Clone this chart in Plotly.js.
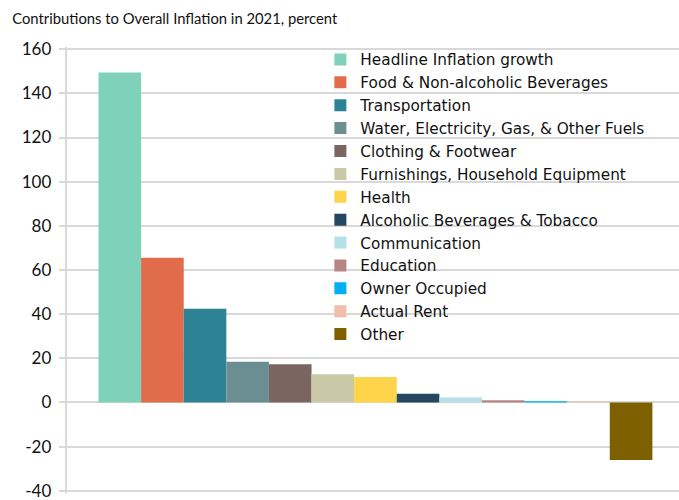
<!DOCTYPE html>
<html>
<head>
<meta charset="utf-8">
<script src="https://cdn.plot.ly/plotly-3.0.1.min.js"></script>
<style>body{margin:0;padding:0;background:#fff}#chart{width:679px;height:500px}</style>
</head>
<body>
<div id="chart"></div>
<script>
var categories = ["Headline Inflation growth","Food & Non-alcoholic Beverages","Transportation","Water, Electricity, Gas, & Other Fuels","Clothing & Footwear","Furnishings, Household Equipment","Health","Alcoholic Beverages & Tobacco","Communication","Education","Owner Occupied","Actual Rent","Other"];
var values = [149.5, 65.5, 42.4, 18.5, 17.3, 12.8, 11.5, 4.0, 2.2, 1.0, 0.6, 0.3, -26.0];
var colors = ["#7fd1b9","#e06c4b","#2e8295","#6b8e92","#7a6561","#c9c9a8","#fed44a","#24465e","#b3e1e8","#b88484","#00b0f0","#f4bcaa","#7f6000"];
var yTicks = [-40,-20,0,20,40,60,80,100,120,140,160];

var TFONT = "Lato, 'Open Sans', sans-serif";
var LFONT = "'DejaVu Sans', 'Open Sans', sans-serif";
var traces = categories.map(function(c,i){
  return {type:"bar", name:c, x:["2021"], y:[values[i]], marker:{color:colors[i]}, hoverinfo:"name+y"};
});
var layout = {
  width:679, height:500,
  margin:{l:67, r:0, t:47, b:7},
  paper_bgcolor:"#fff", plot_bgcolor:"#fff",
  barmode:"group", bargap:0.095, bargroupgap:0,
  title:{text:"Contributions to Overall Inflation in 2021, percent", x:0.018, xanchor:"left", y:0.963, yanchor:"middle", font:{family:TFONT, size:14.8, color:"#111"}},
  showlegend:true,
  legend:{x:0.414, xanchor:"left", y:1.009, yanchor:"top", maxheight:440, bgcolor:"rgba(0,0,0,0)", font:{family:LFONT, size:15.3, color:"#111"}, tracegroupgap:0, itemwidth:30},
  xaxis:{type:"category", range:[-0.504,0.496], showticklabels:false, showline:false, showgrid:false, zeroline:false, ticks:""},
  yaxis:{range:[-41,161], tickvals:yTicks, ticktext:yTicks.map(function(v){return v + "\u00a0";}), showgrid:true, gridcolor:"#d9d9d9", gridwidth:2,
         zeroline:true, zerolinecolor:"#d9d9d9", zerolinewidth:2, showline:true, linecolor:"#d9d9d9", linewidth:2,
         ticks:"outside", ticklen:6, tickcolor:"#d9d9d9", tickwidth:2, ticklabeloverflow:"allow", tickfont:{family:TFONT, size:17, color:"#111"}}
};
Plotly.newPlot("chart", traces, layout, {displayModeBar:false, staticPlot:true});
</script>
</body>
</html>
